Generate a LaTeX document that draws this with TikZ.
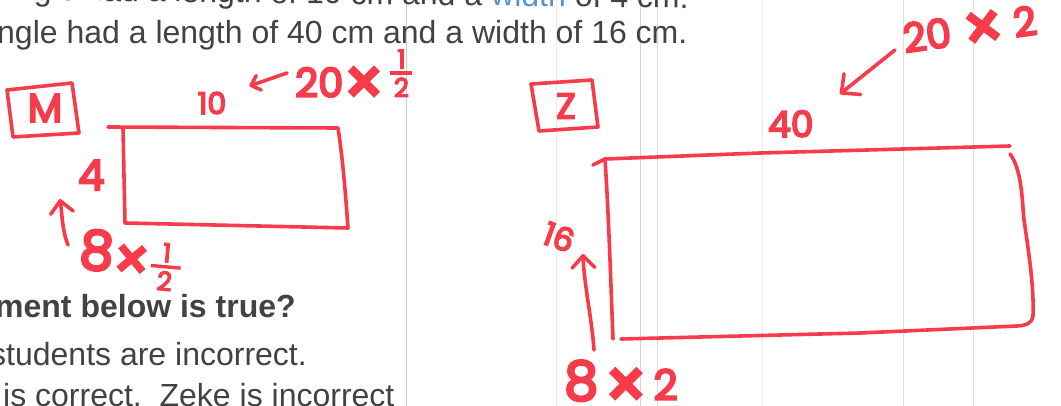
\documentclass[tikz,border=0pt]{standalone}
\usepackage{amsmath}
\usepackage{fontspec}
\setmainfont{Liberation Sans}
\newfontfamily\hw{Poppins}[FakeBold=5]
\usetikzlibrary{arrows.meta}

\definecolor{marker}{RGB}{246,60,74}
\definecolor{ink}{RGB}{66,66,66}
\definecolor{inkblue}{RGB}{84,150,205}
\newcommand{\hwhalf}[1][22pt]{\shortstack{1\\\rule{#1}{3.4pt}\\2}}
\newcommand{\hwtimes}{\raisebox{-0.2em}{\scalebox{1.6}{×}}}

\tikzset{
  pen/.style={marker,line width=3.6pt,line cap=round,line join=round},
  penarrow/.style={pen,-{Straight Barb[length=#1,width=1.9*#1,round]}},
  penarrow/.default=10pt,
  hand/.style={marker,inner sep=0pt},
  print/.style={ink,font=\fontsize{32}{38}\selectfont,anchor=base west,inner sep=0pt},
}

\begin{document}
\begin{tikzpicture}[x=1pt,y=-1pt]
\useasboundingbox (0,0) rectangle (1061,406);
\clip (0,0) rectangle (1061,406);
% faint ruling of the scan
\foreach \x/\s in {406/20,556/8,640/17,657/15,762/8,903/12,973/12}
  \draw[black!\s,line width=1pt] (\x,0) -- (\x,406);

% printed text
\node[print,rotate=-0.7] (given) at (16,0) {ngle had a length of 10 cm and a {\color{inkblue}width} of 4 cm.};
\node[print] (lenzeke) at (-3,44) {ngle had a length of 40 cm and a width of 16 cm.};
\node[print,font=\bfseries\fontsize{32}{38}\selectfont] (ask) at (-5,317) {ment below is true?};
\node[print] (optboth) at (-10,365) {students are incorrect.};
\node[print] (optm) at (3,406) {is correct.\ \ Zeke is incorrect};

% Mandy
\node[hand,font=\hw\fontsize{40}{40}\selectfont] (mtag) at (45,108) {M};
\draw[pen] (7,90) -- (72,83) -- (79,133) -- (13,137) -- cycle;
\draw[pen] (108,127) -- (338,128) .. controls (343,160) and (346,200) .. (348,228)
  -- (125,223) -- (123,128);
\node[hand,font=\hw\fontsize{30}{30}\selectfont] (mlen) at (212,103) {10};
\node[hand,anchor=base west,font=\hw\fontsize{40}{40}\selectfont] (mlenrule) at (295,97)
  {20\hwtimes\hspace{6pt}{\fontsize{26}{26}\selectfont\hwhalf}};
\draw[penarrow=8pt] ([shift={(-8,-24)}]mlenrule.base west) -- ([shift={(23,-17)}]mlen.east);
\node[hand,anchor=base west,font=\hw\fontsize{42}{42}\selectfont] (mwid) at (78,190) {4};
\node[hand,anchor=base west,rotate=-5,font=\hw\fontsize{54}{54}\selectfont] (mwidrule) at (78,268)
  {8{\fontsize{36}{36}\selectfont\hwtimes}\hspace{1pt}{\fontsize{26}{26}\selectfont\raisebox{-15pt}{\hwhalf[30pt]}}};
\draw[penarrow=12pt] ([shift={(-10,-23)}]mwidrule.base west)
  .. controls +(-6,-15) and +(2,14) .. ([shift={(-18,9)}]mwid.base west);

% Zeke
\node[hand,font=\hw\fontsize{36}{36}\selectfont] (ztag) at (566,106) {Z};
\draw[pen] (531,84) -- (592,80) -- (598,127) -- (539,131) -- cycle;
\draw[pen] (593,165) -- (605,159) -- (760,153) -- (1010,146);
\draw[pen] (605,159) .. controls (609,220) and (611,290) .. (613,339);
\draw[pen] (1010,154) .. controls (1022,170) and (1022,200) .. (1024,220)
  .. controls (1030,260) and (1034,290) .. (1033,316)
  .. controls (1032,324) and (1024,326) .. (1017,326) -- (860,333) -- (621,339);
\node[hand,anchor=base west,font=\hw\fontsize{36}{36}\selectfont] (zlen) at (768,137) {40};
\node[hand,anchor=base west,rotate=8,font=\hw\fontsize{40}{40}\selectfont] (zlenrule) at (905,53)
  {20\hspace{12pt}\hwtimes\hspace{10pt}2};
\draw[penarrow=14pt] ([shift={(-10,-3)}]zlenrule.base west) -- ([shift={(72,-43)}]zlen.base west);
\node[hand,rotate=-20,font=\hw\fontsize{32}{32}\selectfont] (zwid) at (559,237) {16};
\node[hand,anchor=base west,font=\hw\fontsize{54}{54}\selectfont] (zwidrule) at (564,400)
  {8{\fontsize{42}{42}\selectfont\hspace{6pt}\hwtimes\hspace{6pt}2}};
\draw[penarrow=12pt] ([shift={(30,-50)}]zwidrule.base west)
  .. controls +(-2,-30) and +(1,30) .. ([shift={(24,17)}]zwid.center);
\end{tikzpicture}
\end{document}
